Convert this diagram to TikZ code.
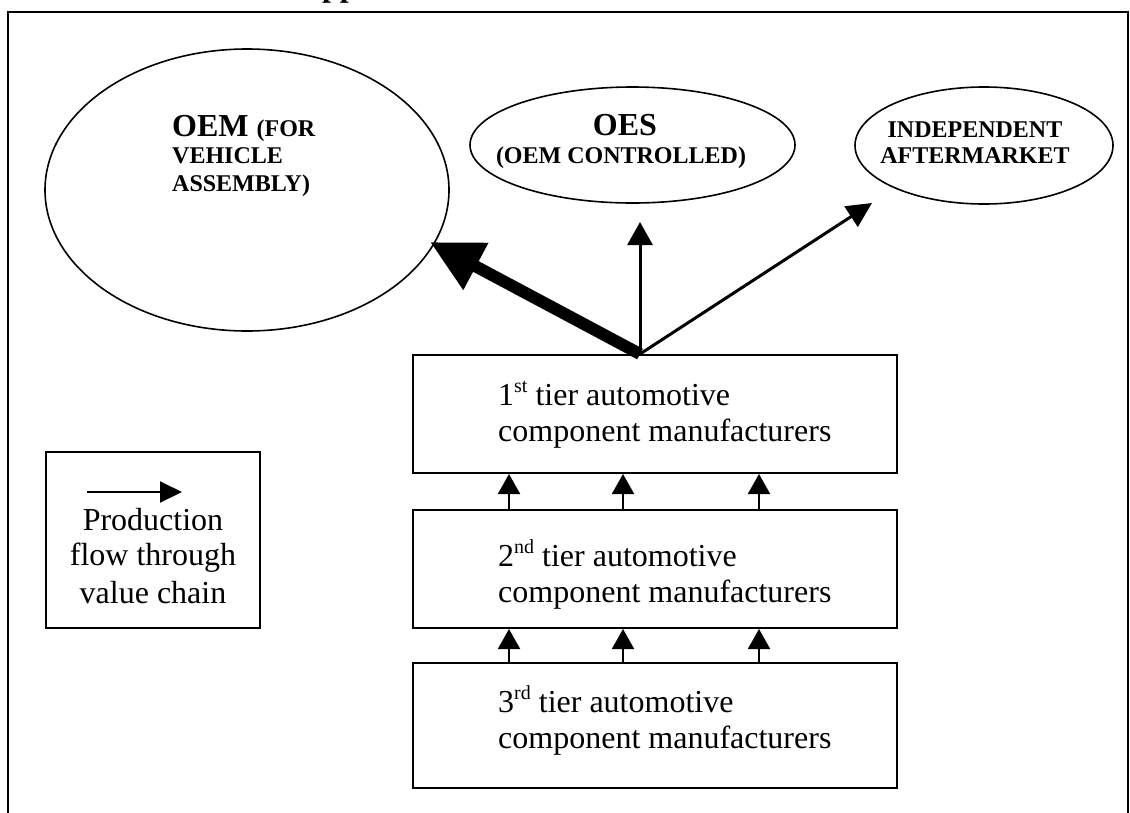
\documentclass[tikz,border=0pt]{standalone}
\usepackage{fontspec}
\setmainfont{Liberation Serif}
\usetikzlibrary{shapes.geometric,arrows.meta}
\newcommand\supx[1]{\raisebox{13pt}{\fontsize{20}{20}\selectfont #1}}
\begin{document}
\begin{tikzpicture}[x=1pt,y=-1pt,
  frameline/.style={line width=2pt},
  tierbox/.style={draw, line width=2pt, minimum width=484pt, minimum height=118pt, inner sep=0pt},
  oval/.style={draw, ellipse, line width=1.6pt, inner sep=0pt},
  tiertext/.style={anchor=base west, inner sep=0pt, font=\fontsize{32}{36}\selectfont},
  legtext/.style={anchor=base, inner sep=0pt, font=\fontsize{32}{36}\selectfont},
  bigcap/.style={inner sep=0pt, font=\bfseries\fontsize{32}{32}\selectfont},
  smallcap/.style={inner sep=0pt, font=\bfseries\fontsize{24}{24}\selectfont},
  flowarrow/.style={line width=2pt, -{Triangle[length=20pt,width=22pt]}},
  midarrow/.style={line width=3pt, -{Triangle[length=23pt,width=25pt]}},
  thickarrow/.style={line width=12pt, -{Triangle[length=52pt,width=50pt]}},
]
\useasboundingbox (0,0) rectangle (1130,812);
\clip (0,0) rectangle (1130,812);

% cut-off title
\node[bigcap, anchor=base west] (title) at (322,-4) {pp};

% frame
\draw[frameline] (7.5,830) -- (7.5,12) -- (1128,12) -- (1128,830);

% ellipses
\node[oval, minimum width=404pt, minimum height=282pt] (oem) at (247,190) {};
\node[bigcap, anchor=base west] (oemA) at (172,136) {OEM {\fontsize{24}{24}\selectfont(FOR}};
\node[smallcap, anchor=base west] (oemB) at (172,163) {VEHICLE};
\node[smallcap, anchor=base west] (oemC) at (172,191) {ASSEMBLY)};

\node[oval, minimum width=325pt, minimum height=116pt] (oes) at (632.5,145) {};
\node[bigcap, anchor=base] (oesA) at (625,135) {OES};
\node[smallcap, anchor=base] (oesB) at (621,163) {(OEM CONTROLLED)};

\node[oval, minimum width=258pt, minimum height=117pt] (ind) at (984,145.5) {};
\node[smallcap, anchor=base] (indA) at (975,137) {INDEPENDENT};
\node[smallcap, anchor=base] (indB) at (975,163) {AFTERMARKET};

% tier boxes
\node[tierbox] (b1) at (655,414) {};
\node[tierbox] (b2) at (655,569) {};
\node[tierbox, minimum height=125pt] (b3) at (655,725.5) {};

\node[tiertext] (t1a) at (498,405) {1\supx{st} tier automotive};
\node[tiertext] (t1b) at (498,441) {component manufacturers};
\node[tiertext] (t2a) at (498,566) {2\supx{nd} tier automotive};
\node[tiertext] (t2b) at (498,602) {component manufacturers};
\node[tiertext] (t3a) at (498,712) {3\supx{rd} tier automotive};
\node[tiertext] (t3b) at (498,748) {component manufacturers};

% flows between tiers
\coordinate (xa) at (509,0);
\coordinate (xb) at (623,0);
\coordinate (xc) at (759,0);
\foreach \c in {xa,xb,xc} {
  \draw[flowarrow] (\c |- b3.north) -- (\c |- b2.south);
  \draw[flowarrow] (\c |- b2.north) -- (\c |- b1.south);
}

% outputs of 1st tier
\coordinate (xo) at (640,0);
\coordinate (o) at (xo |- b1.north);
\coordinate (oemTip) at (430,242);
\coordinate (oesTip) at (640,222);
\coordinate (indTip) at (872,203);
\draw[thickarrow] (o) -- (oemTip);
\draw[midarrow] (o) -- (oesTip);
\draw[midarrow, -{Triangle[length=25pt,width=24pt]}] (o) -- (indTip);

% legend
\node[draw, line width=2pt, minimum width=214pt, minimum height=176pt, inner sep=0pt] (leg) at (153,540) {};
\coordinate (legS) at (87,492);
\coordinate (legE) at (182,492);
\draw[flowarrow, -{Triangle[length=22pt,width=21pt]}] (legS) -- (legE);
\node[legtext] (lA) at (153,530) {Production};
\node[legtext] (lB) at (153,565) {flow through};
\node[legtext] (lC) at (153,603) {value chain};
\end{tikzpicture}
\end{document}
